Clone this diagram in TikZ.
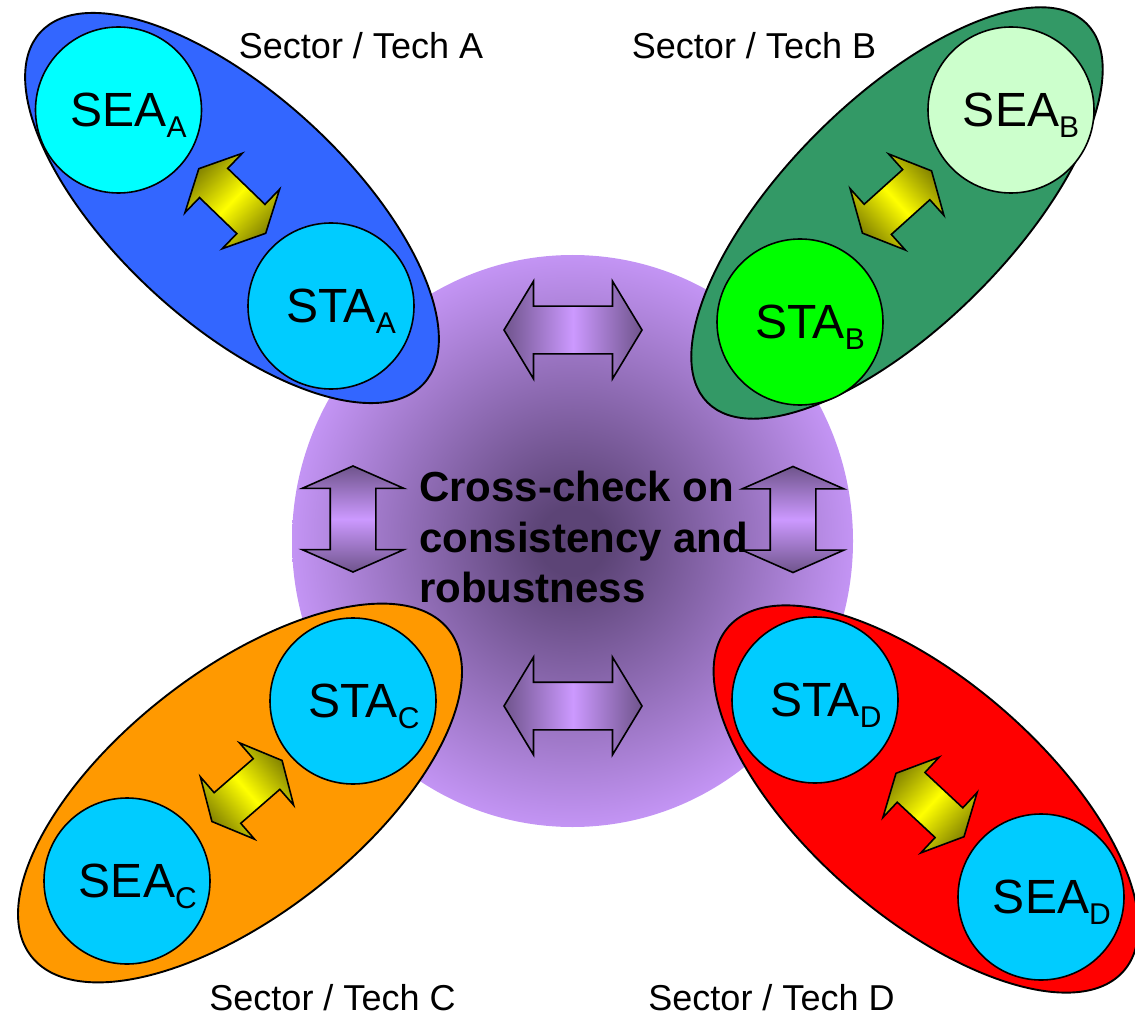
\documentclass[tikz,border=0pt]{standalone}
\usepackage{fontspec}
\setmainfont{Liberation Sans}
\usetikzlibrary{shapes.geometric,shapes.arrows,calc}

\definecolor{hubdark}{RGB}{92,68,118}
\definecolor{hublight}{RGB}{200,152,250}
\definecolor{grpA}{HTML}{3366FF}
\definecolor{grpB}{HTML}{339966}
\definecolor{grpC}{HTML}{FF9900}
\definecolor{grpD}{HTML}{FF0000}
\definecolor{skyfill}{HTML}{00CCFF}
\definecolor{cyanfill}{HTML}{00FFFF}
\definecolor{mintfill}{HTML}{CCFFCC}
\definecolor{limefill}{HTML}{00FF00}
\definecolor{olivedark}{RGB}{105,105,0}
\definecolor{lemon}{RGB}{255,255,0}
\definecolor{arrowdark}{RGB}{100,76,126}
\definecolor{arrowlight}{RGB}{204,153,255}

% soft glow of the central hub
\pgfdeclareradialshading{hubglow}{\pgfpoint{0bp}{0bp}}{%
  color(0bp)=(hubdark); color(3bp)=(hubdark); color(26bp)=(hublight); color(50bp)=(hublight)}
% arrow fills: dark at both tips, light in the middle (along x)
\pgfdeclarehorizontalshading{yellowlink}{100bp}{%
  color(0bp)=(olivedark); color(20bp)=(olivedark); color(50bp)=(lemon);
  color(80bp)=(olivedark); color(100bp)=(olivedark)}
\pgfdeclarehorizontalshading{purplelink}{100bp}{%
  color(0bp)=(arrowdark); color(22bp)=(arrowdark); color(50bp)=(arrowlight);
  color(78bp)=(arrowdark); color(100bp)=(arrowdark)}

% main label with a lowered index hanging to the right
\newcommand{\lbl}[2]{#1\rlap{\raisebox{-11pt}[0pt][0pt]{\fontsize{30}{30}\selectfont #2}}}

\tikzset{
  disc/.style={circle, draw, line width=1.6pt, minimum size=166pt, inner sep=0pt,
    font=\fontsize{48}{48}\selectfont},
  group/.style={ellipse, draw, line width=1.9pt, inner sep=0pt},
  yarrow/.style={double arrow, draw, line width=1.6pt, minimum height=93pt,
    inner xsep=0pt, inner ysep=19.5pt, double arrow head extend=21pt,
    double arrow tip angle=127, shade, shading=yellowlink},
  parrow/.style={double arrow, draw, line width=1.6pt, inner xsep=0pt,
    shade, shading=purplelink},
  harrow/.style={parrow, minimum height=138pt, inner ysep=23pt,
    double arrow head extend=25pt, double arrow tip angle=117.7},
  varrow/.style={parrow, minimum height=106pt,
    inner ysep=22pt, double arrow head extend=28pt, double arrow tip angle=132.5},
  % turn a whole link, fill included, about its centre
  turned/.style 2 args={transform canvas={shift={(#1)}, rotate=#2}},
  sector/.style={font=\fontsize{36}{36}\selectfont, anchor=base, inner sep=0pt},
}

\begin{document}
\begin{tikzpicture}[x=1pt, y=-1pt]
\useasboundingbox (0,0) rectangle (1135,1016);

% central hub
\node[ellipse, minimum width=561pt, minimum height=572pt, inner sep=0pt,
      shade, shading=hubglow] (hub) at (572.5,541) {};

% sector groups
\node[group, fill=grpA, minimum width=520pt, minimum height=230pt, rotate=-42.5] (secA) at (232,208) {};
\node[group, fill=grpB, minimum width=536pt, minimum height=226pt, rotate=45]    (secB) at (897,213) {};
\node[group, fill=grpC, minimum width=530pt, minimum height=244pt, rotate=38]    (secC) at (240,793) {};
\node[group, fill=grpD, minimum width=524pt, minimum height=236pt, rotate=-41]   (secD) at (926,799) {};

% analyses inside each group
\node[disc, fill=cyanfill] (seaA) at (118.5,110) {\lbl{SEA}{A}};
\node[disc, fill=skyfill]  (staA) at (331,306)   {\lbl{STA}{A}};
\node[disc, fill=mintfill] (seaB) at (1011,110)  {\lbl{SEA}{B}};
\node[disc, fill=limefill] (staB) at (800,322)   {\lbl{STA}{B}};
\node[disc, fill=skyfill]  (seaC) at (127,881)   {\lbl{SEA}{C}};
\node[disc, fill=skyfill]  (staC) at (353,701)   {\lbl{STA}{C}};
\node[disc, fill=skyfill]  (staD) at (815,700)   {\lbl{STA}{D}};
\node[disc, fill=skyfill]  (seaD) at (1041,897)  {\lbl{SEA}{D}};

% links inside each group, centred between their two analyses
\coordinate (midA) at ($(seaA)!0.5!(staA)+(7.5,-7)$);
\coordinate (midB) at ($(staB)!0.5!(seaB)+(-8.5,-14)$);
\coordinate (midC) at ($(seaC)!0.5!(staC)+(7,0)$);
\coordinate (midD) at ($(staD)!0.5!(seaD)+(2,6.5)$);
\begin{scope}[turned={midA}{-44}] \node[yarrow] (linkA) at (0,0) {}; \end{scope}
\begin{scope}[turned={midB}{42}]  \node[yarrow] (linkB) at (0,0) {}; \end{scope}
\begin{scope}[turned={midC}{41}]  \node[yarrow] (linkC) at (0,0) {}; \end{scope}
\begin{scope}[turned={midD}{-43}] \node[yarrow] (linkD) at (0,0) {}; \end{scope}

% links between groups
\node[harrow] (linkAB) at (573,330) {};
\node[harrow] (linkCD) at (573,706) {};
\coordinate (midAC) at (353,519);
\coordinate (midBD) at (793,519.5);
\begin{scope}[turned={midAC}{90}] \node[varrow] (linkAC) at (0,0) {}; \end{scope}
\begin{scope}[turned={midBD}{90}] \node[varrow] (linkBD) at (0,0) {}; \end{scope}

% hub text
\node[anchor=north west, align=left, inner sep=0pt,
      font=\fontsize{42}{50.5}\selectfont\bfseries] (note) at (419,471)
  {Cross-check on\\consistency and\\robustness};

% group captions
\node[sector] (tagA) at (361,59)    {Sector / Tech A};
\node[sector] (tagB) at (754,59)    {Sector / Tech B};
\node[sector] (tagC) at (332.5,1010) {Sector / Tech C};
\node[sector] (tagD) at (771.5,1010) {Sector / Tech D};
\end{tikzpicture}
\end{document}
